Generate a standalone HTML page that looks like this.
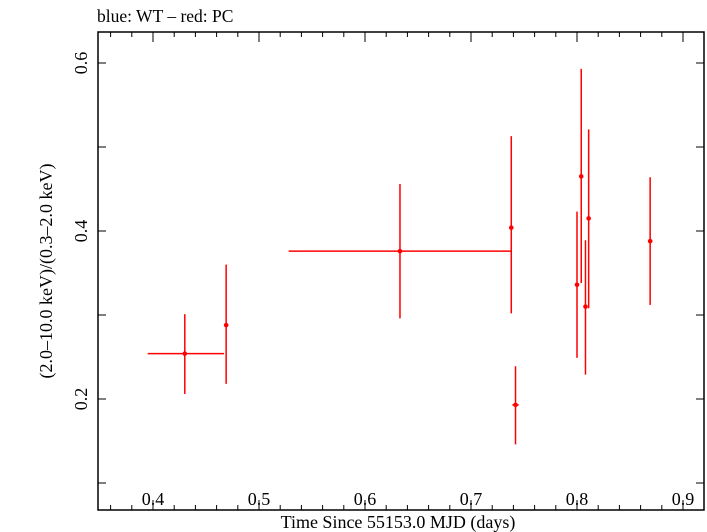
<!DOCTYPE html>
<html><head><meta charset="utf-8"><style>body{margin:0;background:#fff}svg{display:block;font-family:"Liberation Serif",serif}</style></head>
<body>
<svg id="chart" width="707" height="532" viewBox="0 0 707 532" xmlns="http://www.w3.org/2000/svg">
<text x="97" y="22" font-size="17.5">blue: WT – red: PC</text>
<rect x="98" y="32" width="606" height="478" fill="none" stroke="#000" stroke-width="1.5"/>
<g id="ticks"></g>
<g id="marks"></g>
<text x="398" y="528" font-size="18" text-anchor="middle">Time Since 55153.0 MJD (days)</text>
<text transform="translate(52,271) rotate(-90)" font-size="18" text-anchor="middle">(2.0–10.0 keV)/(0.3–2.0 keV)</text>
</svg>
<script>
const xs=[0.430,0.469,0.633,0.738,0.742,0.800,0.804,0.808,0.811,0.869];
const xLo=[0.395,0.467,0.528,0.737,0.739,0.799,0.803,0.807,0.810,0.867];
const xHi=[0.467,0.471,0.738,0.739,0.745,0.801,0.805,0.809,0.812,0.871];
const ys=[0.254,0.288,0.376,0.404,0.193,0.336,0.465,0.310,0.415,0.388];
const yLo=[0.206,0.218,0.296,0.302,0.146,0.249,0.338,0.229,0.308,0.312];
const yHi=[0.301,0.360,0.456,0.513,0.239,0.423,0.593,0.389,0.521,0.464];
const xTickLabels=["0.4","0.5","0.6","0.7","0.8","0.9"];
const yTickLabels=["0.2","0.4","0.6"];
const X=v=>153+(v-0.4)*1060, Y=v=>399-(v-0.2)*840;
const NS="http://www.w3.org/2000/svg";
function mk(p,t,a){const e=document.createElementNS(NS,t);for(const k in a)e.setAttribute(k,a[k]);p.appendChild(e);return e;}
const tg=document.getElementById('ticks'), mg=document.getElementById('marks');
for(let i=18;i<=46;i++){const v=i/50,x=X(v);if(x<99||x>703)continue;const maj=i%5===0,L=maj?10:5;
 let t=mk(tg,'line',{x1:x,x2:x,y1:510,y2:510-L,stroke:'#000'});
 t=mk(tg,'line',{x1:x,x2:x,y1:32,y2:32+L,stroke:'#000'});}
xTickLabels.forEach(s=>{const t=mk(tg,'text',{x:X(+s),y:505,'font-size':18,'text-anchor':'middle'});t.textContent=s;});
for(let i=1;i<=6;i++){const y=Y(i/10);
 let t=mk(tg,'line',{x1:98,x2:106,y1:y,y2:y,stroke:'#000'});
 t=mk(tg,'line',{x1:704,x2:696,y1:y,y2:y,stroke:'#000'});}
yTickLabels.forEach(s=>{const t=mk(tg,'text',{transform:`translate(87,${Y(+s)}) rotate(-90)`,'font-size':18,'text-anchor':'middle'});t.textContent=s;});
xs.forEach((v,i)=>{const g=mk(mg,'g',{stroke:'#f00','stroke-width':1.5});
 
 mk(g,'line',{x1:X(xLo[i]),x2:X(xHi[i]),y1:Y(ys[i]),y2:Y(ys[i])});
 mk(g,'line',{x1:X(v),x2:X(v),y1:Y(yLo[i]),y2:Y(yHi[i])});
 mk(g,'circle',{cx:X(v),cy:Y(ys[i]),r:2.3,fill:'#f00',stroke:'none'});});
</script>
</body></html>
